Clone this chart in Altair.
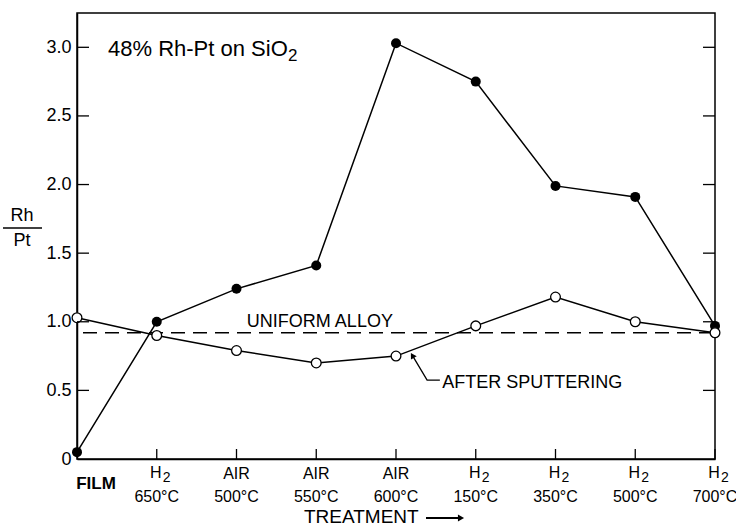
import altair as alt
import pandas as pd

# ---- data ----
treat_gas = ["FILM", "H", "AIR", "AIR", "AIR", "H", "H", "H", "H"]
treat_sub = ["", "2", "", "", "", "2", "2", "2", "2"]
treat_temp = ["", "650°C", "500°C", "550°C", "600°C", "150°C", "350°C", "500°C", "700°C"]
filled_vals = [0.05, 1.00, 1.24, 1.41, 3.03, 2.75, 1.99, 1.91, 0.97]
open_vals = [1.03, 0.90, 0.79, 0.70, 0.75, 0.97, 1.18, 1.00, 0.92]
uniform_alloy = 0.92
y_ticks = [0, 0.5, 1.0, 1.5, 2.0, 2.5, 3.0]

W, H = 638, 446
FONT = "Liberation Sans"

idx = list(range(len(treat_gas)))
df = pd.DataFrame({"i": idx, "gas": treat_gas, "subs": treat_sub, "temp": treat_temp,
                   "filled": filled_vals, "open": open_vals})

xsc = alt.Scale(domain=[0, 8], nice=False, zero=False)
ysc = alt.Scale(domain=[0, 3.25], nice=False)


def X(field="i"):
    return alt.X(f"{field}:Q", scale=xsc, axis=alt.Axis(labels=False, ticks=False, grid=False,
                                                      title=None, domainColor="black",
                                                      domainWidth=1.5))


def Y(field):
    return alt.Y(f"{field}:Q", scale=ysc,
                 axis=alt.Axis(values=y_ticks, grid=False, ticks=False, title=None,
                               labelExpr="datum.value == 0 ? '0' : format(datum.value, '.1f')",
                               labelFont=FONT, labelFontSize=18, labelColor="black",
                               labelPadding=6, domainColor="black", domainWidth=1.5))


def txt(s, x, y, size, align="center", weight="normal"):
    return alt.Chart(pd.DataFrame({"t": [s]})).mark_text(
        font=FONT, fontSize=size, color="black", align=align, fontWeight=weight).encode(
        x=alt.value(x - 77), y=alt.value(y - 13), text="t:N")


base = alt.Chart(df)

line_f = base.mark_line(color="black", strokeWidth=1.5).encode(x=X(), y=Y("filled"))
pts_f = base.mark_point(filled=True, color="black", size=100, opacity=1).encode(x=X(), y=Y("filled"))
line_o = base.mark_line(color="black", strokeWidth=1.5).encode(x=X(), y=Y("open"))
pts_o = base.mark_point(filled=True, fill="white", stroke="black", strokeWidth=1.3,
                        size=95, opacity=1).encode(x=X(), y=Y("open"))

dash = alt.Chart(pd.DataFrame({"v": [uniform_alloy]})).mark_rule(
    color="black", strokeWidth=1.5, strokeDash=[14, 8]).encode(
    y=Y("v"), x=alt.value(6), x2=alt.value(W))

# inward ticks
xt = alt.Chart(pd.DataFrame({"i": idx[1:]})).mark_rule(color="black", strokeWidth=1.3).encode(
    x=X(), y=alt.value(H), y2=alt.value(H - 10))
ydf = pd.DataFrame({"v": y_ticks[1:]})
ytl = alt.Chart(ydf).mark_rule(color="black", strokeWidth=1.3).encode(
    y=Y("v"), x=alt.value(0), x2=alt.value(12))
ytr = alt.Chart(ydf).mark_rule(color="black", strokeWidth=1.3).encode(
    y=Y("v"), x=alt.value(W), x2=alt.value(W - 12))

# x category labels
lab_df = df[df["i"] > 0]
air_df = lab_df[lab_df["subs"] == ""]
h_df = lab_df[lab_df["subs"] != ""]
lab_air = alt.Chart(air_df).mark_text(font=FONT, fontSize=16, color="black").encode(
    x=X(), y=alt.value(H + 15), text="gas:N")
lab_h = alt.Chart(h_df).mark_text(font=FONT, fontSize=16, color="black", dx=-1).encode(
    x=X(), y=alt.value(H + 14), text="gas:N")
lab_h2 = alt.Chart(h_df).mark_text(font=FONT, fontSize=14, color="black", dx=10).encode(
    x=X(), y=alt.value(H + 19), text="subs:N")
lab_temp = alt.Chart(lab_df).mark_text(font=FONT, fontSize=16, color="black").encode(
    x=X(), y=alt.value(H + 38), text="temp:N")
film = alt.Chart(df[df["i"] == 0]).mark_text(font=FONT, fontSize=17, fontWeight="bold",
                                             color="black", dx=19).encode(
    x=X(), y=alt.value(H + 25), text="gas:N")

# x title with arrow
xtitle = txt("TREATMENT", 304, 517, 19, align="left")
arrow_line = alt.Chart(pd.DataFrame({"a": [0]})).mark_rule(color="black", strokeWidth=2).encode(
    x=alt.value(426 - 77), x2=alt.value(458 - 77), y=alt.value(518 - 13))
arrow_head = alt.Chart(pd.DataFrame({"a": [0]})).mark_point(
    shape="triangle-right", filled=True, color="black", opacity=1, size=50).encode(
    x=alt.value(461 - 77), y=alt.value(518 - 13))

title = txt("48% Rh-Pt on SiO", 108, 49, 22, align="left")
title2 = txt("2", 288, 56, 17, align="left")

# y title as fraction
yt_rh = txt("Rh", 22, 216, 18)
yt_pt = txt("Pt", 22, 241, 18)
yt_bar = alt.Chart(pd.DataFrame({"a": [0]})).mark_rule(color="black", strokeWidth=1.5).encode(
    x=alt.value(3 - 77), x2=alt.value(42 - 77), y=alt.value(228 - 13))

# annotations
uni_txt = alt.Chart(pd.DataFrame({"x": [2.13], "y": [1.0], "t": ["UNIFORM ALLOY"]})).mark_text(
    font=FONT, fontSize=18, color="black", align="left").encode(x=X("x"), y=Y("y"), text="t:N")
sp_txt = alt.Chart(pd.DataFrame({"x": [4.58], "y": [0.553], "t": ["AFTER SPUTTERING"]})).mark_text(
    font=FONT, fontSize=18, color="black", align="left").encode(x=X("x"), y=Y("y"), text="t:N")
leader = alt.Chart(pd.DataFrame({"x": [4.22, 4.39, 4.55], "y": [0.74, 0.575, 0.575],
                                 "o": [0, 1, 2]})).mark_line(
    color="black", strokeWidth=1.3).encode(x=X("x"), y=Y("y"), order="o:Q")
head = alt.Chart(pd.DataFrame({"x": [4.205], "y": [0.755]})).mark_point(
    shape="triangle-up", filled=True, color="black", opacity=1, size=45, angle=329).encode(
    x=X("x"), y=Y("y"))

chart = alt.layer(
    dash, line_f, line_o, pts_f, pts_o, xt, ytl, ytr, lab_air, lab_h, lab_h2, lab_temp, film,
    xtitle, arrow_line, arrow_head, title, title2, yt_rh, yt_pt, yt_bar,
    uni_txt, sp_txt, leader, head
).properties(
    width=W, height=H,
    autosize=alt.AutoSizeParams(type="none"),
    padding={"left": 77, "top": 13, "right": 21, "bottom": 69},
    background="white",
).configure_view(stroke="black", strokeWidth=1.5)

chart.save("out.html", embed_options={"renderer": "svg", "actions": False})
